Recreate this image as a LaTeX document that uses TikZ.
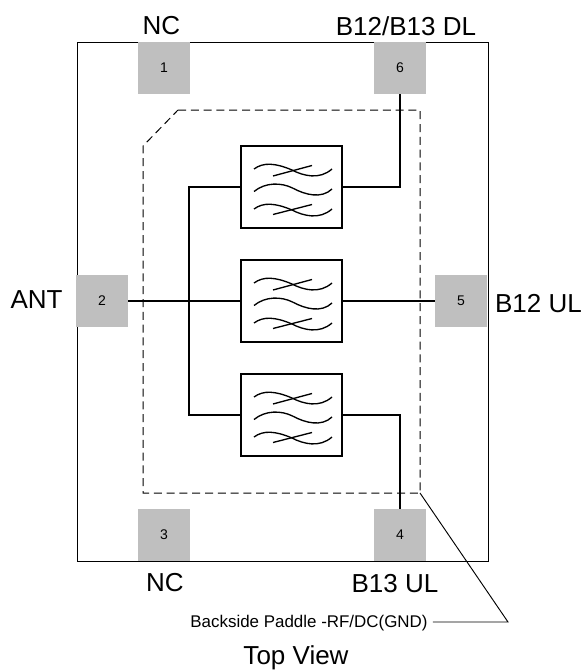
\documentclass[tikz,border=0pt]{standalone}
\usepackage{fontspec}
\setmainfont{Liberation Sans}
\begin{document}
\begin{tikzpicture}[x=0.75pt,y=-0.75pt,
  padbox/.style={fill=pad,draw=none,minimum size=39pt,inner sep=0pt,font=\fontsize{10.5}{12}\selectfont},
  filterbox/.style={draw=black,line width=1.1pt,fill=white,minimum width=75.5pt,minimum height=61.5pt,inner sep=0pt},
  wire/.style={line width=0.9pt,draw=black},
  biglabel/.style={font=\fontsize{19.5}{22}\selectfont,inner sep=0pt},
  waves/.pic={
    \draw[line width=1pt] (-37.5,-18) .. controls (-28,-25) and (-16,-24) .. (0.5,-17) .. controls (12,-11) and (28,-7) .. (40.5,-18);
    \draw[line width=1pt] (-18.5,-11) -- (20.5,-21.5);
    \draw[line width=1pt] (-37.5,4.5) .. controls (-26,-5) and (-10,-4.5) .. (1,1) .. controls (14,8) and (30,12) .. (40.5,2);
    \draw[line width=1pt] (-37.5,22) .. controls (-28,15) and (-16,16) .. (0.5,23) .. controls (12,29) and (28,33) .. (40.5,22);
    \draw[line width=1pt] (-18.5,27.5) -- (20.5,17.5);
  }]
\definecolor{pad}{RGB}{191,191,191}
\useasboundingbox (0,0) rectangle (581,671);
\draw[line width=0.7pt] (77,42) rectangle (488,561);
\node[padbox] (p1) at (164,68) {1};
\node[padbox] (p6) at (400,68) {6};
\node[padbox] (p2) at (102,301) {2};
\node[padbox] (p5) at (461,301) {5};
\node[padbox] (p3) at (164,535) {3};
\node[padbox] (p4) at (400,535) {4};
\coordinate (d1) at (178,110);
\coordinate (d2) at (420,110);
\coordinate (d3) at (420,493);
\coordinate (d4) at (143,493);
\coordinate (d5) at (143,146);
\draw[dash pattern=on 6pt off 3.6pt,line width=0.75pt,draw=black] (d1) -- (d2) -- (d3) -- (d4) -- (d5) -- cycle;
\node[filterbox] (f1) at (291.5,187) {};
\node[filterbox] (f2) at (291.5,301) {};
\node[filterbox] (f3) at (291.5,415) {};
\pic at (f1) {waves};
\pic at (f2) {waves};
\pic at (f3) {waves};
\coordinate (b1) at (189,187);
\coordinate (b3) at (189,415);
\draw[wire] (f1.west) -- (b1) -- (b3) -- (f3.west);
\draw[wire] (p2.east) -- (f2.west);
\draw[wire] (f1.east) -| (p6.south);
\draw[wire] (f2.east) -- (p5.west);
\draw[wire] (f3.east) -| (p4.north);
\node[biglabel] (nc1) at (161.5,26) {NC};
\node[biglabel] (dl) at (406,26) {B12/B13 DL};
\node[biglabel] (ant) at (36.5,300) {ANT};
\node[biglabel] (ul5) at (538.5,304) {B12 UL};
\node[biglabel] (nc3) at (165,583) {NC};
\node[biglabel] (ul4) at (395,584) {B13 UL};
\node[biglabel] (top) at (296,658) {Top View};
\node[inner sep=0pt,font=\fontsize{12.7}{14}\selectfont] (back) at (309,623) {Backside Paddle -RF/DC(GND)};
\coordinate (e) at (508,622);
\draw[line width=0.7pt] (d3) -- (e) -- ([xshift=3.7pt]back.east |- e);
\end{tikzpicture}
\end{document}
